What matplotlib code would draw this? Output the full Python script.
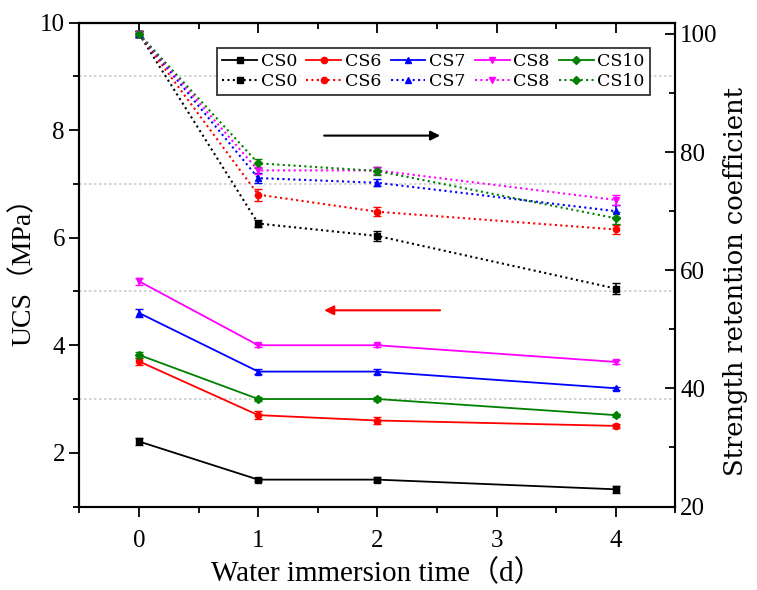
import numpy as np
import matplotlib
matplotlib.use('Agg')
import matplotlib.pyplot as plt
from matplotlib.ticker import MultipleLocator
from matplotlib.lines import Line2D

plt.rcParams['font.family'] = ['Liberation Serif', 'Noto Sans CJK SC']

# 数据
days = [0, 1, 2, 4]
names = ['CS0', 'CS6', 'CS7', 'CS8', 'CS10']
colors = ['black', 'red', 'blue', 'magenta', 'green']
markers = ['s', 'o', '^', 'v', 'D']

# 无侧限抗压强度 (MPa)
ucs = {
    'CS0': [2.21, 1.50, 1.50, 1.32],
    'CS6': [3.70, 2.70, 2.60, 2.50],
    'CS7': [4.60, 3.51, 3.51, 3.20],
    'CS8': [5.19, 4.00, 4.00, 3.69],
    'CS10': [3.82, 3.00, 3.00, 2.70],
}
ucs_err = {
    'CS0': [0.07, 0.03, 0.04, 0.06],
    'CS6': [0.07, 0.07, 0.06, 0.04],
    'CS7': [0.07, 0.04, 0.04, 0.03],
    'CS8': [0.07, 0.03, 0.03, 0.04],
    'CS10': [0.06, 0.03, 0.03, 0.03],
}

# 强度保持系数
ret = {
    'CS0': [100, 67.9, 65.8, 56.9],
    'CS6': [100, 72.8, 69.9, 66.9],
    'CS7': [100, 75.6, 74.8, 70.0],
    'CS8': [100, 76.9, 76.9, 71.9],
    'CS10': [100, 78.1, 76.8, 68.8],
}
ret_err = {
    'CS0': [0.5, 0.6, 0.8, 1.0],
    'CS6': [0.5, 1.0, 0.8, 0.8],
    'CS7': [0.5, 0.8, 0.6, 1.0],
    'CS8': [0.5, 0.6, 0.6, 0.8],
    'CS10': [0.5, 0.8, 0.6, 1.0],
}

dot = (0, (1, 1.6))

fig = plt.figure(figsize=(7.57, 5.90), dpi=100)
ax = fig.add_axes([0.105, 0.1415, 0.787, 0.82])
ax2 = ax.twinx()

handles = []
for n, c, m in zip(names, colors, markers):
    ax.errorbar(days, ucs[n], yerr=ucs_err[n], color=c, marker=m, ms=4.5,
                lw=1.3, capsize=3, elinewidth=1.2)
    ax2.errorbar(days, ret[n], yerr=ret_err[n], color=c, marker=m, ms=4.5,
                 lw=1.5, ls=dot, capsize=3, elinewidth=1.2)
    handles.append(Line2D([], [], color=c, marker=m, ms=4.5, lw=1.3, label=n))
    handles.append(Line2D([], [], color=c, marker=m, ms=4.5, lw=1.5, ls=dot, label=n))

# 箭头
ax.annotate('', xy=(2.55, 7.9), xytext=(1.53, 7.9),
            arrowprops=dict(arrowstyle='-|>', color='black', lw=1.5, mutation_scale=14))
ax.annotate('', xy=(1.53, 4.65), xytext=(2.55, 4.65),
            arrowprops=dict(arrowstyle='-|>', color='red', lw=1.5, mutation_scale=14))

ax.set_xlim(-0.5, 4.5)
ax.set_ylim(1, 10)
ax2.set_ylim(20, 101.9)

ax.xaxis.set_minor_locator(MultipleLocator(0.5))
ax.yaxis.set_minor_locator(MultipleLocator(1))
ax2.yaxis.set_major_locator(MultipleLocator(20))
ax2.yaxis.set_minor_locator(MultipleLocator(10))
ax.set_xticks([0, 1, 2, 3, 4])
ax.set_yticks([2, 4, 6, 8, 10])

for y in [3, 5, 7, 9]:
    ax.axhline(y, color='#cccccc', lw=1.2, ls=(0, (1.5, 1.5)), zorder=0)

ax.tick_params(axis='both', which='major', direction='out', length=7, width=1.3, labelsize=18)
ax.tick_params(axis='x', which='major', pad=10)
ax.tick_params(axis='both', which='minor', direction='out', length=4, width=1.3)
ax2.tick_params(axis='y', which='major', direction='in', length=7, width=1.3, labelsize=18)
ax2.tick_params(axis='y', which='minor', direction='in', length=4, width=1.3)

top = ax.secondary_xaxis('top')
top.set_xticks([0, 1, 2, 3, 4])
top.xaxis.set_minor_locator(MultipleLocator(0.5))
top.tick_params(which='major', direction='in', length=7, width=1.3, labeltop=False)
top.tick_params(which='minor', direction='in', length=4, width=1.3)

for sp in list(ax.spines.values()) + list(ax2.spines.values()) + list(top.spines.values()):
    sp.set_linewidth(1.5)

ax.set_xlabel('Water immersion time（d）', fontsize=21, labelpad=5)
ax.set_ylabel('UCS（MPa）', fontsize=20, labelpad=2)
ax2.set_ylabel('Strength retention coefficient', fontsize=18.5,
               family=['DejaVu Serif'])
ax2.yaxis.set_label_coords(1.08, 0.465)

leg = ax2.legend(handles=handles, ncol=5,
                 loc='upper left', bbox_to_anchor=(0.231, 0.948),
                 prop={'family': 'DejaVu Serif', 'size': 12.5},
                 frameon=True, fancybox=False, edgecolor='black',
                 handlelength=2.0, handletextpad=0.2, columnspacing=0.55,
                 labelspacing=0.15, borderpad=0.3, borderaxespad=0)
leg.get_frame().set_linewidth(1.3)

fig.savefig('out.png', dpi=100)
